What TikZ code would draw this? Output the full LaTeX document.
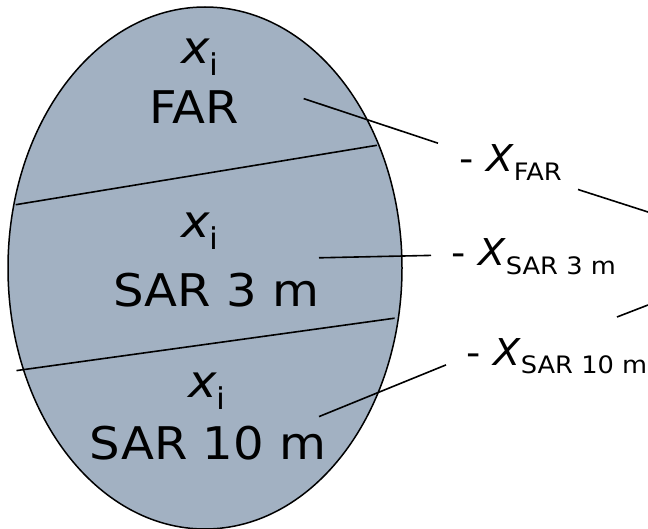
\documentclass[tikz,border=0pt]{standalone}
\usepackage{fontspec}
\setmainfont[FakeStretch=1.07]{DejaVu Sans}
\definecolor{fillb}{RGB}{162,177,194}
\newcommand\bigsub[1]{\raisebox{-12pt}{\fontsize{30}{30}\selectfont #1}}
\newcommand\labsub[1]{\raisebox{-9pt}{\fontsize{24}{24}\selectfont #1}}
\begin{document}
\begin{tikzpicture}[x=1pt,y=-1pt,
  big/.style={anchor=base,inner sep=0pt,font=\fontsize{45}{50}\selectfont},
  lab/.style={anchor=base west,inner sep=0pt,font=\fontsize{37}{42}\selectfont},
  wire/.style={line width=1.6pt},
  outline/.style={line width=1.5pt,fill=fillb}]
\useasboundingbox (0,0) rectangle (648,529);
% ellipse
\draw[outline] (205,268) ellipse [x radius=197, y radius=261];
% dividers
\coordinate (d1a) at (15.7,204.7);  \coordinate (d1b) at (376.9,145.3);
\coordinate (d2a) at (16.5,370.6);  \coordinate (d2b) at (394.6,318.2);
\draw[wire] (d1a) -- (d1b);
\draw[wire] (d2a) -- (d2b);
% texts inside
\node[big] (x1) at (200,64) {\textit{x}\bigsub{i}};
\node[big] (far) at (194,124) {FAR};
\node[big] (x2) at (200,238) {\textit{x}\bigsub{i}};
\node[big] (sar3) at (216,307) {SAR 3 m};
\node[big] (x3) at (207,397) {\textit{x}\bigsub{i}};
\node[big] (sar10) at (208,459) {SAR 10 m};
% labels
\node[lab] (l1) at (459,172) {- \textit{X}\labsub{FAR}};
\node[lab] (l2) at (451,266) {- \textit{X}\labsub{SAR 3 m}};
\node[lab] (l3) at (466,365) {- \textit{X}\labsub{SAR 10 m}};
% pointers
\coordinate (p1a) at (303.7,98.6);  \coordinate (p1b) at (438,143.2);
\coordinate (p2a) at (319,257.8);   \coordinate (p2b) at (431,255.4);
\coordinate (p3a) at (319,416.6);   \coordinate (p3b) at (446,364.9);
\draw[wire] (p1a) -- (p1b);
\draw[wire] (p2a) -- (p2b);
\draw[wire] (p3a) -- (p3b);
% right-hand partial lines
\coordinate (r1a) at (578,189.5);  \coordinate (r1b) at (648,212);
\coordinate (r2a) at (617,317);    \coordinate (r2b) at (648,305);
\draw[wire] (r1a) -- (r1b);
\draw[wire] (r2a) -- (r2b);
\end{tikzpicture}
\end{document}
